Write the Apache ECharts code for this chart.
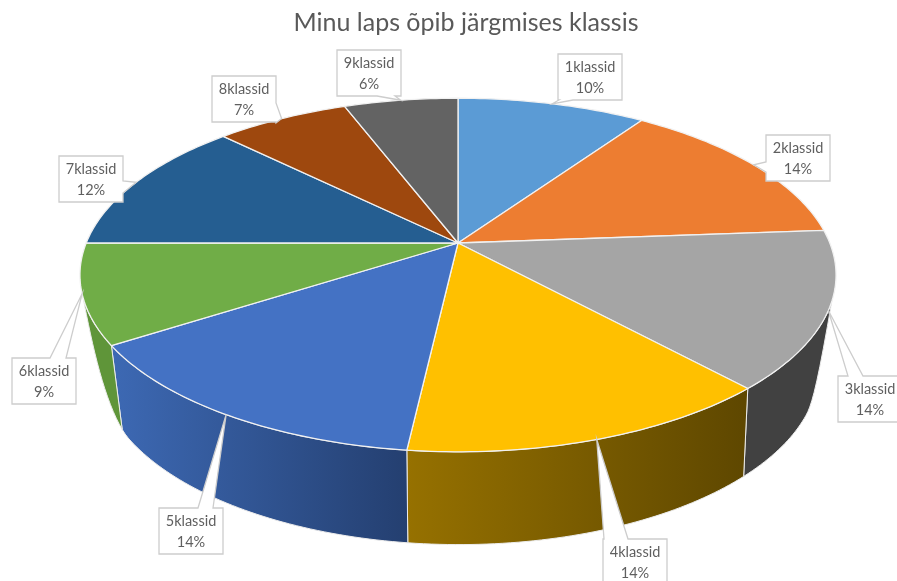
<!DOCTYPE html>
<html>
<head>
<meta charset="utf-8">
<style>html,body{margin:0;padding:0;background:#fff}#c{width:897px;height:581px}</style>
<script src="https://cdn.jsdelivr.net/npm/echarts@6/dist/echarts.min.js"></script>
</head>
<body>
<div id="c"></div>
<script>
const titleText = 'Minu laps õpib järgmises klassis';
const categories = ['1klassid','2klassid','3klassid','4klassid','5klassid','6klassid','7klassid','8klassid','9klassid'];
const shares = [9.6,14.2,14.4,13.6,14.1,9.1,12.4,6.8,5.8];

// styling and layout, separate from the data
const topColors = ['#5b9bd5','#ed7d31','#a5a5a5','#ffc000','#4472c4','#70ad47','#255e91','#9e480e','#636363'];
const wallColors = [null,null,['#414141','#414141'],['#967100','#5e4700'],['#3d69b4','#243f70'],['#5f9539','#5f9539'],null,null,null];
// box x, y, side of the callout stem, stem start, stem end
const labelLayout = [
  [558,54,'b',559,573],[766,135,'l',162,172],[838,376,'t',848,863],
  [603,539,'t',604,628],[159,508,'t',198,213],[12,358,'t',50,66],
  [59,156,'r',181,193],[212,76,'r',103,123],[337,50,'b',377,395]
];
const boxW = 64, boxH = 46;
const rad = d => d * Math.PI / 180;
const total = shares.reduce((a,b)=>a+b,0);
const starts = []; shares.reduce((a,b,i)=>(starts[i]=a, a+b),0);
const ang = p => p / total * 360;

const topView = {cx:458, cy:243, A:371.8, B:171, k:0.181};
const baseView = {cx:459, cy:329, A:350, B:166, k:0.23};
function project(v, deg){
  const X = Math.sin(rad(deg)), Y = Math.cos(rad(deg)), w = 1 + v.k * Y;
  return [v.cx + v.A * X / w, v.cy - v.B * Y / w];
}
const wallFrom = 108.7, wallTo = 253;
function wallBottom(deg){
  const p = project(baseView, deg);
  let t = 0, e = null;
  if (deg < 118) { t = Math.pow((118 - deg) / (118 - wallFrom), 3); e = project(topView, wallFrom); }
  if (deg > 235) { t = Math.pow((deg - 235) / (wallTo - 235), 2); e = project(topView, wallTo); }
  return e ? [p[0]*(1-t)+e[0]*t, p[1]*(1-t)+e[1]*t] : p;
}
function sample(a, b){
  const out = [], n = Math.max(2, Math.ceil(Math.abs(b-a)));
  for (let i=0;i<=n;i++) out.push(a+(b-a)*i/n);
  return out;
}

function renderTop(params, api){
  const i = params.dataIndex;
  const a = ang(starts[i]), b = a + ang(api.value(0));
  const pts = [[topView.cx, topView.cy]].concat(sample(a,b).map(d=>project(topView,d)));
  return {type:'polygon', shape:{points:pts}, style:{fill:topColors[i], stroke:'#f1f1f1', lineWidth:1.3, lineJoin:'round'}};
}
function renderWall(params, api){
  const i = params.dataIndex;
  if (!wallColors[i]) return null;
  const a = Math.max(ang(starts[i]), wallFrom), b = Math.min(ang(starts[i]) + ang(api.value(0)), wallTo);
  if (b <= a) return null;
  const angles = sample(a,b);
  const pts = angles.map(d=>project(topView,d)).concat(angles.slice().reverse().map(wallBottom));
  return {type:'polygon', shape:{points:pts}, style:{
    fill:new echarts.graphic.LinearGradient(0,0,1,0,[{offset:0,color:wallColors[i][0]},{offset:1,color:wallColors[i][1]}]),
    stroke:'#ececec', lineWidth:1, lineJoin:'round'}};
}
function renderLabel(params, api){
  const i = params.dataIndex;
  const [x,y,side,s,e] = labelLayout[i];
  const tip = project(topView, ang(starts[i]) + ang(api.value(0))/2);
  const r = x+boxW, btm = y+boxH;
  const pts = [[x,y]];
  if (side==='t') pts.push([s,y],tip,[e,y]);
  pts.push([r,y]);
  if (side==='r') pts.push([r,s],tip,[r,e]);
  pts.push([r,btm]);
  if (side==='b') pts.push([e,btm],tip,[s,btm]);
  pts.push([x,btm]);
  if (side==='l') pts.push([x,e],tip,[x,s]);
  return {type:'group', children:[
    {type:'polygon', shape:{points:pts}, style:{fill:'#fff', stroke:'#cdcdcd', lineWidth:1.3}},
    {type:'text', style:{x:x+boxW/2, y:y+boxH/2-9.5, text:categories[i], textAlign:'center', textVerticalAlign:'middle',
      font:'14.5px Lato', fill:'#5f5f5f'}},
    {type:'text', style:{x:x+boxW/2, y:y+boxH/2+11, text:Math.round(api.value(0))+'%', textAlign:'center', textVerticalAlign:'middle',
      font:'14.5px Lato', fill:'#5f5f5f'}}
  ]};
}
const seriesData = shares.map((v,i)=>({name:categories[i], value:v}));
const chart = echarts.init(document.getElementById('c'), null, {renderer:'canvas'});
chart.setOption({
  animation:false,
  backgroundColor:'#ffffff',
  title:{text:titleText, left:461, top:5, textAlign:'center',
    textStyle:{fontFamily:'Lato', fontSize:25, fontWeight:'normal', color:'#595959'}},
  series:[
    {type:'custom', name:'walls', coordinateSystem:'none', z:1, silent:true, data:seriesData, renderItem:renderWall},
    {type:'custom', name:'slices', coordinateSystem:'none', z:2, silent:true, data:seriesData, renderItem:renderTop},
    {type:'custom', name:'labels', coordinateSystem:'none', z:3, silent:true, data:seriesData, renderItem:renderLabel}
  ]
});
</script>
</body>
</html>
